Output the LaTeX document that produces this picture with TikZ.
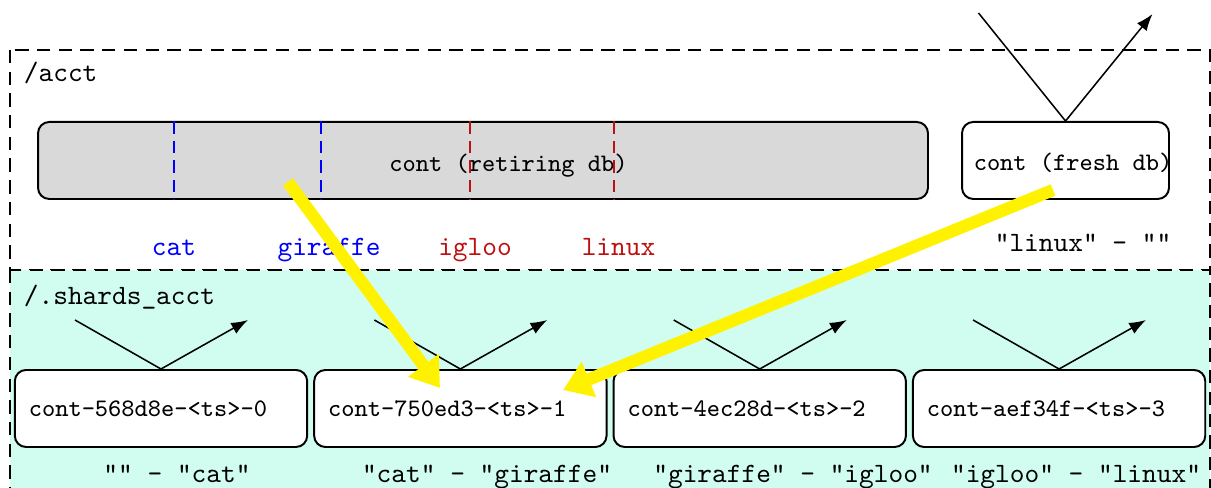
\documentclass[tikz,border=0pt]{standalone}
\usepackage{fontspec}
\usepackage{xcolor}
\usepackage{tikz}
\usetikzlibrary{arrows, arrows.meta}
\usetikzlibrary{positioning}

\definecolor{shardbg}{RGB}{208,253,240}
\definecolor{keyred}{RGB}{190,16,16}

\begin{document}
\begin{tikzpicture}[>={Latex[length=6pt,width=4.4pt]}, x=0.3571pt, y=0.3571pt, font=\ttfamily,
  nsframe/.style={draw, line width=0.8pt, dash pattern=on 4.75pt off 3pt},
  db/.style={draw, line width=0.7pt, rounded corners=4pt, minimum height=27.5pt, inner sep=0pt},
  shard/.style={db, fill=white, font=\ttfamily\small, text width=94.4pt, inner xsep=5pt, align=left},
  divider/.style={semithick, dash pattern=on 4.5pt off 2.5pt},
  migrate/.style={-{Triangle[length=10pt,width=13pt]}, yellow, line width=4.4pt}]

  \useasboundingbox (0,0) rectangle (1211,488);
  \clip (0,0) rectangle (1211,488);

  % the two namespaces
  \draw [nsframe] (10,438) rectangle (1210,218);
  \draw [nsframe, fill=shardbg] (10,218) rectangle (1210,-20);
  \node [anchor=base west] (acct) at (14,406) {/acct};
  \node [anchor=base west] (shacct) at (14,183) {/.shards\_acct};

  % old and new container
  \node [db, fill=black!15, minimum width=317.8pt] (rbox) at (483,327.5) {};
  \node [font=\ttfamily\small, anchor=base] (rtxt) at (508.5,316) {cont (retiring db)};
  \node [db, fill=white, minimum width=73.9pt] (fresh) at (1065.5,327.5) {};
  \node [font=\ttfamily\small, anchor=base] (ftxt) at (1073,317) {cont (fresh db)};
  \node [anchor=base] (frange) at (1083,236) {"linux" - ""};

  % shard ranges
  \foreach \xx/\cc in {174/blue, 321/blue, 470/keyred, 614/keyred}
    \draw [\cc, divider] (\xx,0 |- rbox.north) -- (\xx,0 |- rbox.south);
  \node [anchor=base, blue] (kcat) at (174,232) {cat};
  \node [anchor=base, blue] (kgiraffe) at (329,232) {giraffe};
  \node [anchor=base, keyred] (kigloo) at (475,232) {igloo};
  \node [anchor=base, keyred] (klinux) at (618.5,232) {linux};

  % shard containers
  \node [shard] (s0) at (161,79.5) {cont-568d8e-<ts>-0};
  \node [shard, right=1.8pt of s0] (s1) {cont-750ed3-<ts>-1};
  \node [shard, right=1.8pt of s1] (s2) {cont-4ec28d-<ts>-2};
  \node [shard, right=1.8pt of s2] (s3) {cont-aef34f-<ts>-3};

  \node [anchor=base] (r0) at (177,5) {"" - "cat"};
  \node [anchor=base] (r1) at (487,5) {"cat" - "giraffe"};
  \node [anchor=base] (r2) at (793,5) {"giraffe" - "igloo"};
  \node [anchor=base] (r3) at (1076,5) {"igloo" - "linux"};

  % requests in and out
  \foreach \s in {s0,s1,s2,s3}
    \draw [->, line width=0.55pt] (\s.north) ++(-86,49) -- (\s.north) -- +(87,49);
  \draw [->, line width=0.55pt] (fresh.north) ++(-87,108) -- (fresh.north) -- +(87,107);

  % objects moving into the shard
  \coordinate (from1) at (288,306);
  \coordinate (to1) at (440,100);
  \coordinate (from2) at (1053,298);
  \coordinate (to2) at (563,98);
  \draw [migrate] (from1) -- (to1);
  \draw [migrate] (from2) -- (to2);
\end{tikzpicture}
\end{document}
